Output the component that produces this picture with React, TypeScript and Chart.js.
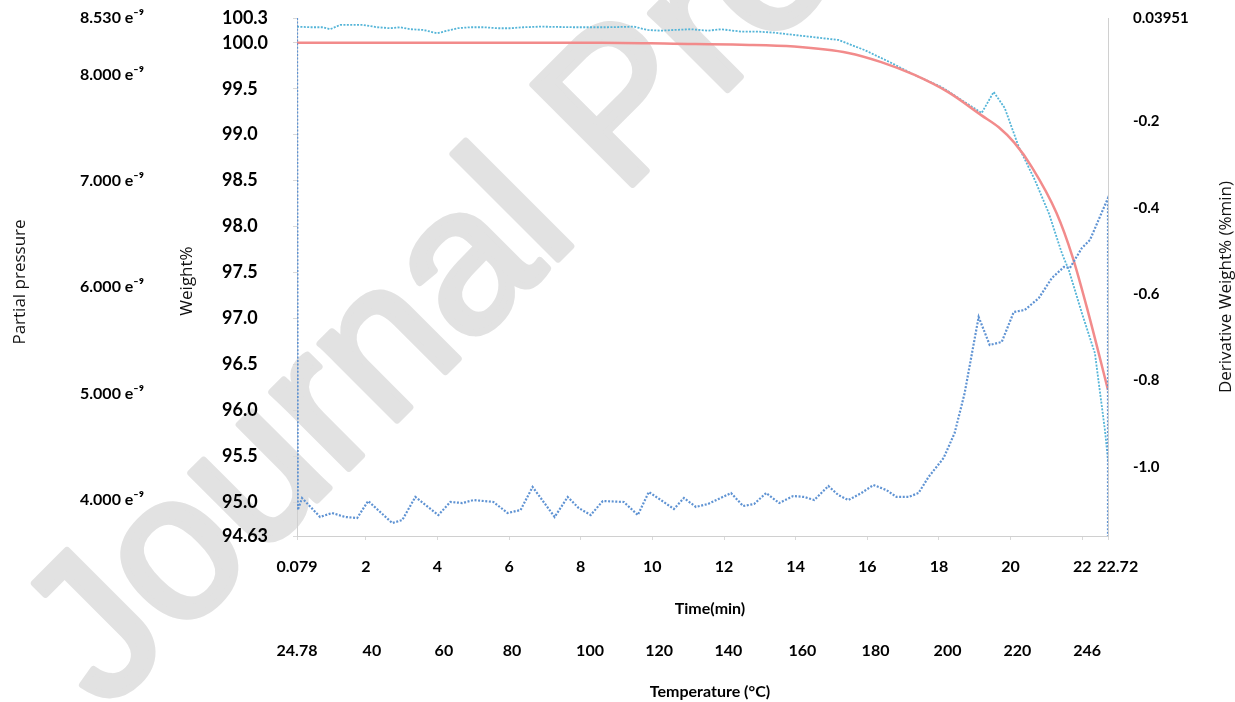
import React, { useEffect, useRef } from 'react';
import { Chart, registerables } from 'chart.js';

Chart.register(...registerables);

// ---------- data ----------
const timeTicks = [0.079, 2, 4, 6, 8, 10, 12, 14, 16, 18, 20, 22, 22.72];
const temperatureLabels = ['24.78', '40', '60', '80', '100', '120', '140', '160', '180', '200', '220', '246'];
const temperatureTickTimes = [0.079, 2.17, 4.18, 6.08, 8.26, 10.19, 12.12, 14.19, 16.23, 18.24, 20.19, 22.14];
const weightTicks = [94.63, 95.0, 95.5, 96.0, 96.5, 97.0, 97.5, 98.0, 98.5, 99.0, 99.5, 100.0, 100.27];
const pressureTicks = [4, 5, 6, 7, 8, 8.53]; // x 1e-9
const derivTicks = [-1.0, -0.8, -0.6, -0.4, -0.2, 0.03951];

// Weight% (red)
const weightTime = [0.079, 2.96, 5.76, 8.56, 10.6, 12.48, 13.96, 15.47, 16.39, 17.32, 18.27, 19.19, 19.67, 20.11, 20.59, 21.28, 21.73, 22.17, 22.72];
const weightValues = [100.0, 100.0, 100.0, 100.0, 99.99, 99.98, 99.96, 99.89, 99.79, 99.65, 99.46, 99.21, 99.08, 98.91, 98.65, 98.15, 97.67, 97.06, 96.22];

// Derivative Weight% (cyan)
const derivTime = [0.079, 0.443, 0.807, 1.003, 1.282, 1.562, 1.926, 2.318, 2.681, 2.961, 3.241, 3.605, 3.997, 4.277, 4.557, 4.92, 5.284, 5.676, 6.04, 6.404, 6.879, 7.803, 8.754, 9.482, 9.874, 10.237, 10.601, 11.077, 11.553, 11.917, 12.477, 12.952, 13.4, 13.96, 15.191, 15.919, 16.675, 17.318, 18.074, 18.717, 19.193, 19.529, 19.837, 20.229, 20.677, 21.069, 21.432, 21.628, 21.992, 22.355, 22.635, 22.72];
const derivValues = [0.0195, 0.0181, 0.0181, 0.0135, 0.0234, 0.0234, 0.0234, 0.0181, 0.0158, 0.0181, 0.0135, 0.0118, 0.0042, 0.0102, 0.0158, 0.0181, 0.0181, 0.0158, 0.0158, 0.0181, 0.0195, 0.0181, 0.0181, 0.0195, 0.0118, 0.0102, 0.0118, 0.0135, 0.0102, 0.0135, 0.0079, 0.0079, 0.0056, 0.0002, -0.0113, -0.0345, -0.0646, -0.0924, -0.1202, -0.155, -0.1805, -0.1318, -0.1689, -0.2591, -0.3355, -0.4127, -0.5052, -0.5447, -0.6442, -0.7368, -0.9153, -0.9847];

// Partial pressure (blue), x 1e-9
const pressureTime = [0.079, 0.1, 0.219, 0.723, 1.058, 1.422, 1.758, 2.066, 2.738, 3.018, 3.382, 4.025, 4.361, 4.697, 5.005, 5.564, 5.956, 6.32, 6.656, 7.272, 7.636, 7.943, 8.279, 8.615, 9.203, 9.594, 9.902, 10.238, 10.601, 10.881, 11.217, 11.553, 12.197, 12.532, 12.84, 13.176, 13.54, 13.932, 14.24, 14.52, 14.912, 15.192, 15.471, 15.835, 16.171, 16.535, 16.815, 17.15, 17.43, 17.71, 18.13, 18.438, 18.718, 19.109, 19.417, 19.753, 20.089, 20.397, 20.789, 21.152, 21.488, 21.656, 21.992, 22.216, 22.72, 22.72];
const pressureValues = [8.53, 3.904, 4.017, 3.839, 3.876, 3.839, 3.829, 3.989, 3.782, 3.81, 4.027, 3.857, 3.98, 3.97, 3.998, 3.98, 3.876, 3.904, 4.121, 3.839, 4.027, 3.923, 3.857, 3.989, 3.98, 3.857, 4.074, 3.998, 3.914, 4.017, 3.933, 3.961, 4.064, 3.942, 3.961, 4.064, 3.97, 4.036, 4.027, 3.998, 4.13, 4.045, 3.998, 4.064, 4.139, 4.092, 4.027, 4.027, 4.064, 4.215, 4.393, 4.628, 5.004, 5.719, 5.456, 5.484, 5.766, 5.785, 5.897, 6.085, 6.189, 6.18, 6.368, 6.443, 6.838, 3.66];

const watermarkText = 'Journal Pre-proof';

const TICK_FONT = 'Lato';
const TITLE_FONT = '"Open Sans"';

const pairs = (xs: number[], ys: number[]) => xs.map((x, i) => ({ x, y: ys[i] }));

const decorPlugin = {
  id: 'decor',
  beforeDraw(chart: any) {
    const ctx = chart.ctx;
    ctx.save();
    ctx.translate(105, 712);
    ctx.rotate(-Math.PI / 4);
    ctx.font = '205px "Liberation Sans"';
    ctx.fillStyle = '#e2e2e2';
    ctx.strokeStyle = '#e2e2e2';
    ctx.lineWidth = 7;
    ctx.lineJoin = 'round';
    ctx.textBaseline = 'alphabetic';
    ctx.textAlign = 'left';
    ctx.fillText(watermarkText, 0, 0);
    ctx.strokeText(watermarkText, 0, 0);
    ctx.restore();
  },
  afterDraw(chart: any) {
    const ctx = chart.ctx;
    const vTitle = (text: string, x: number, y: number) => {
      ctx.save();
      ctx.translate(x, y);
      ctx.rotate(-Math.PI / 2);
      ctx.font = `17px ${TITLE_FONT}`;
      ctx.fillStyle = '#111';
      ctx.textAlign = 'center';
      ctx.textBaseline = 'middle';
      ctx.fillText(text, 0, 0);
      ctx.restore();
    };
    const hTitle = (text: string, x: number, y: number) => {
      ctx.save();
      ctx.font = `bold 16px ${TICK_FONT}`;
      ctx.fillStyle = '#000';
      ctx.textAlign = 'center';
      ctx.textBaseline = 'middle';
      ctx.fillText(text, x, y);
      ctx.restore();
    };
    vTitle('Partial pressure', 20, 282);
    vTitle('Weight%', 187, 281);
    vTitle('Derivative Weight% (%min)', 1226, 287);
    hTitle('Time(min)', 710, 609);
    hTitle('Temperature (°C)', 710, 692);
  },
};

export default function App() {
  const canvasRef = useRef<HTMLCanvasElement | null>(null);

  useEffect(() => {
    if (!canvasRef.current) return;
    const gridCol = '#d9d9d9';
    const chart = new Chart(canvasRef.current, {
      type: 'line',
      data: {
        datasets: [
          {
            label: 'Partial pressure',
            data: pairs(pressureTime, pressureValues),
            xAxisID: 'x',
            yAxisID: 'pp',
            borderColor: '#5f93d3',
            borderWidth: 2.2,
            borderDash: [2, 1.6],
            pointRadius: 0,
            tension: 0,
            order: 0,
          },
          {
            label: 'Weight%',
            data: pairs(weightTime, weightValues),
            xAxisID: 'x',
            yAxisID: 'w',
            borderColor: '#f28b8b',
            borderWidth: 2.5,
            pointRadius: 0,
            cubicInterpolationMode: 'monotone',
            order: 1,
          },
          {
            label: 'Derivative Weight%',
            data: pairs(derivTime, derivValues),
            xAxisID: 'x',
            yAxisID: 'd',
            borderColor: '#55b5d8',
            borderWidth: 1.8,
            borderDash: [2, 1.4],
            pointRadius: 0,
            tension: 0,
            order: 2,
          },
        ],
      },
      options: {
        animation: false,
        responsive: true,
        maintainAspectRatio: false,
        layout: { padding: { left: 80, top: 18, right: 0, bottom: 0 } },
        plugins: { legend: { display: false }, tooltip: { enabled: false } },
        scales: {
          x: {
            type: 'linear',
            position: 'bottom',
            weight: 1,
            min: 0.079,
            max: 22.72,
            afterBuildTicks: (s: any) => { s.ticks = timeTicks.map((v) => ({ value: v })); },
            afterFit: (s: any) => { s.height = 90; },
            border: { display: true, color: '#d0d0d0', width: 1 },
            grid: { display: true, drawOnChartArea: false, drawTicks: true, tickLength: 4, color: gridCol },
            ticks: {
              autoSkip: false,
              maxRotation: 0,
              minRotation: 0,
              padding: 17,
              color: '#000',
              font: { family: TICK_FONT, weight: 'bold', size: 16 },
              callback: (v: any) => (v === 22.72 ? '     22.72' : String(v)),
            },
          },
          temp: {
            type: 'linear',
            position: 'bottom',
            weight: 2,
            min: 0.079,
            max: 22.72,
            afterBuildTicks: (s: any) => { s.ticks = temperatureTickTimes.map((v) => ({ value: v })); },
            afterFit: (s: any) => { s.height = 76; },
            border: { display: false },
            grid: { display: false, drawTicks: false },
            ticks: {
              autoSkip: false,
              maxRotation: 0,
              minRotation: 0,
              padding: 15.4,
              color: '#000',
              font: { family: TICK_FONT, weight: 'bold', size: 16 },
              callback: (_v: any, i: number) => temperatureLabels[i],
            },
          },
          w: {
            type: 'linear',
            position: 'left',
            weight: 1,
            min: 94.63,
            max: 100.27,
            afterBuildTicks: (s: any) => { s.ticks = weightTicks.map((v) => ({ value: v })); },
            afterFit: (s: any) => { s.width = 75; },
            border: { display: true, color: '#d0d0d0', width: 1 },
            grid: { display: true, drawOnChartArea: false, drawTicks: true, tickLength: 4, color: gridCol },
            ticks: {
              crossAlign: 'far',
              color: '#000',
              font: { family: TICK_FONT, weight: 'bold', size: 18 },
              callback: (v: any) => (v === 94.63 ? '94.63' : Number(v).toFixed(1)),
            },
          },
          pp: {
            type: 'linear',
            position: 'left',
            weight: 2,
            min: 3.66,
            max: 8.53,
            afterBuildTicks: (s: any) => { s.ticks = pressureTicks.map((v) => ({ value: v })); },
            afterFit: (s: any) => { s.width = 142; },
            border: { display: false },
            grid: { display: false, drawTicks: false },
            ticks: {
              crossAlign: 'far',
              color: '#000',
              font: { family: TICK_FONT, weight: 'bold', size: 16 },
              callback: (v: any) => `${Number(v).toFixed(3)} e\u207B\u2079`,
            },
          },
          d: {
            type: 'linear',
            position: 'right',
            weight: 1,
            min: -1.16,
            max: 0.03951,
            afterBuildTicks: (s: any) => { s.ticks = derivTicks.map((v) => ({ value: v })); },
            afterFit: (s: any) => { s.width = 127; },
            border: { display: true, color: '#d0d0d0', width: 1 },
            grid: {
              display: true,
              drawOnChartArea: false,
              drawTicks: true,
              tickLength: 22,
              tickColor: 'rgba(0,0,0,0)',
              color: gridCol,
            },
            ticks: {
              crossAlign: 'near',
              padding: 3,
              color: '#000',
              font: { family: TICK_FONT, weight: 'bold', size: 15 },
              callback: (v: any) => (v === 0.03951 ? '0.03951' : Number(v).toFixed(1)),
            },
          },
        },
      } as any,
      plugins: [decorPlugin],
    });
    return () => chart.destroy();
  }, []);

  return (
    <div style={{ position: 'absolute', left: 0, top: 0, width: 1235, height: 702, background: '#fff' }}>
      <canvas ref={canvasRef} />
    </div>
  );
}
